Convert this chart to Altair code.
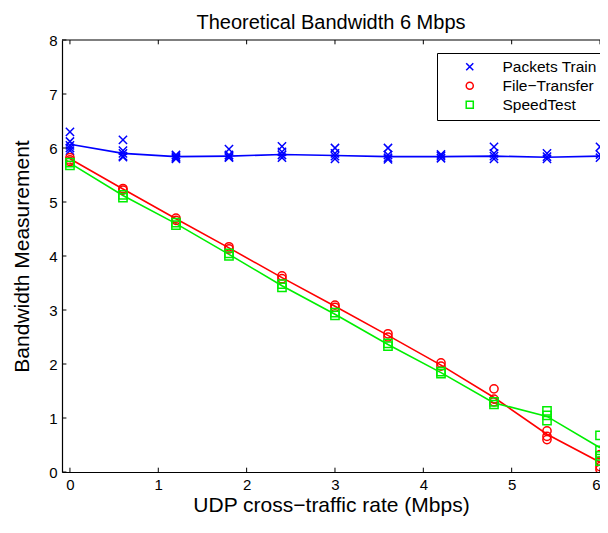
import altair as alt
import pandas as pd

# ---- data ----
x_rates = [0, 0.6, 1.2, 1.8, 2.4, 3.0, 3.6, 4.2, 4.8, 5.4, 6.0]

packets_pts = [
    [6.3, 6.12, 6.05, 6.0, 5.95],
    [6.15, 5.95, 5.9, 5.85, 5.83],
    [5.87, 5.84, 5.82, 5.8],
    [5.98, 5.87, 5.84, 5.82],
    [6.03, 5.93, 5.87, 5.82],
    [6.0, 5.9, 5.85, 5.8],
    [6.0, 5.87, 5.82, 5.79],
    [5.88, 5.85, 5.81],
    [6.02, 5.9, 5.85, 5.8],
    [5.9, 5.84, 5.8],
    [6.02, 5.88, 5.82],
]
packets_line = [6.07, 5.9, 5.84, 5.85, 5.88, 5.86, 5.84, 5.84, 5.85, 5.83, 5.85]

file_pts = [
    [5.82, 5.78, 5.75],
    [5.25, 5.22],
    [4.7, 4.66],
    [4.17, 4.13],
    [3.63, 3.58],
    [3.09, 3.05],
    [2.56, 2.5],
    [2.02, 1.96],
    [1.54, 1.35, 1.3],
    [0.76, 0.66, 0.6],
    [0.32, 0.2, 0.1, 0.05],
]
file_line = [5.8, 5.24, 4.69, 4.15, 3.6, 3.07, 2.53, 1.98, 1.38, 0.7, 0.18]

speed_pts = [
    [5.73, 5.68],
    [5.13, 5.08],
    [4.62, 4.57],
    [4.05, 4.0],
    [3.48, 3.42],
    [2.95, 2.9],
    [2.38, 2.33],
    [1.86, 1.82],
    [1.3, 1.25],
    [1.13, 1.05, 0.95],
    [0.68, 0.4, 0.3, 0.2],
]
speed_line = [5.72, 5.12, 4.6, 4.03, 3.45, 2.92, 2.36, 1.84, 1.28, 1.03, 0.45]

series_names = ["Packets Train", "File\u2212Transfer", "SpeedTest"]
series_colors = ["#0000ff", "#ff0000", "#00ee00"]
x_ticks = [0, 1, 2, 3, 4, 5, 6]
y_ticks = [0, 1, 2, 3, 4, 5, 6, 7, 8]

# ---- tables ----
pt_rows, ln_rows = [], []
for name, pts, line in zip(series_names, [packets_pts, file_pts, speed_pts],
                           [packets_line, file_line, speed_line]):
    for xv, vals, lv in zip(x_rates, pts, line):
        for v in vals:
            pt_rows.append({"x": xv, "y": v, "s": name})
        ln_rows.append({"x": xv, "y": lv, "s": name})
pts_df = pd.DataFrame(pt_rows)
ln_df = pd.DataFrame(ln_rows)

XMIN, XMAX = -0.09, 6.0
xs = alt.Scale(domain=[XMIN, XMAX], nice=False, zero=False)
ys = alt.Scale(domain=[0, 8], nice=False)
cs = alt.Scale(domain=series_names, range=series_colors)
shp = alt.Scale(domain=series_names,
                range=["M-1,-1L1,1M1,-1L-1,1", "circle", "square"])

fontf = "Liberation Sans"

lines = alt.Chart(ln_df).mark_line(strokeWidth=1.6, clip=True).encode(
    x=alt.X("x:Q", scale=xs,
            axis=alt.Axis(values=x_ticks, title="UDP cross\u2212traffic rate (Mbps)",
                          ticks=False, labelPadding=5, titlePadding=2,
                          grid=False, format="d")),
    y=alt.Y("y:Q", scale=ys,
            axis=alt.Axis(values=y_ticks, title="Bandwidth Measurement",
                          ticks=False, labelPadding=5, titlePadding=16,
                          grid=False, format="d")),
    color=alt.Color("s:N", scale=cs, legend=None),
    detail="s:N",
)

points = alt.Chart(pts_df).mark_point(filled=False, strokeWidth=1.5, size=68,
                                      clip=True, opacity=1).encode(
    x=alt.X("x:Q", scale=xs),
    y=alt.Y("y:Q", scale=ys),
    color=alt.Color("s:N", scale=cs,
                    legend=alt.Legend(title="\u00a0", orient="none",
                                      legendX=375, legendY=13,
                                      titleOrient="left", titlePadding=19,
                                      titleFontSize=15,
                                      strokeColor="black", fillColor="white",
                                      padding=6, symbolSize=50,
                                      symbolStrokeWidth=1.5,
                                      labelFontSize=15.5, labelFont=fontf,
                                      labelColor="black", labelOffset=25,
                                      rowPadding=2, labelLimit=300)),
    shape=alt.Shape("s:N", scale=shp, legend=None),
)

# inward tick marks and top frame line (MATLAB style)
xt_df = pd.DataFrame({"x": x_ticks})
yt_df = pd.DataFrame({"y": y_ticks})
frame_df = pd.DataFrame({"y": [8]})
xt_bot = alt.Chart(xt_df).mark_rule(color="black", strokeWidth=1).encode(
    x=alt.X("x:Q", scale=xs), y=alt.datum(0), y2=alt.datum(0.08))
xt_top = alt.Chart(xt_df).mark_rule(color="black", strokeWidth=1).encode(
    x=alt.X("x:Q", scale=xs), y=alt.datum(8), y2=alt.datum(7.92))
yt_left = alt.Chart(yt_df).mark_rule(color="black", strokeWidth=1).encode(
    y=alt.Y("y:Q", scale=ys), x=alt.datum(XMIN), x2=alt.datum(XMIN + 0.05))
top_line = alt.Chart(frame_df).mark_rule(color="black", strokeWidth=1.2).encode(
    y=alt.Y("y:Q", scale=ys), x=alt.datum(XMIN), x2=alt.datum(XMAX))

chart = alt.layer(lines, points, xt_bot, xt_top, yt_left, top_line).properties(
    width=538, height=432,
    title=alt.Title("Theoretical Bandwidth 6 Mbps", fontSize=20, font=fontf,
                    fontWeight="normal", color="black", offset=0, frame="group"),
    padding={"left": 54, "top": 32, "right": 0, "bottom": 46},
    autosize=alt.AutoSizeParams(type="none"),
).resolve_legend(
    color="independent", shape="independent"
).configure_view(
    stroke=None
).configure_axis(
    domainColor="black", domainWidth=1.2, labelColor="black", titleColor="black",
    labelFont=fontf, titleFont=fontf, labelFontSize=15, titleFontSize=21,
    titleFontWeight="normal",
)

chart.save("out.html", embed_options={"renderer": "svg", "actions": False})
